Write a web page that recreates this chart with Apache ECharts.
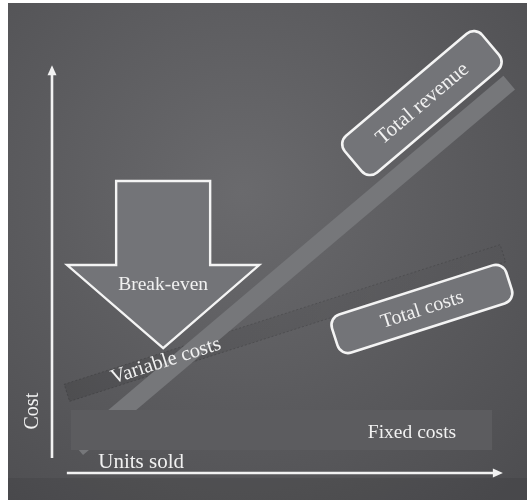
<!DOCTYPE html>
<html>
<head>
<meta charset="utf-8">
<script src="https://cdn.jsdelivr.net/npm/echarts@6/dist/echarts.min.js"></script>
<style>
  html, body { margin: 0; padding: 0; background: #ffffff; }
  #chart { position: absolute; left: 8px; top: 3px; width: 519px; height: 497px; }
</style>
</head>
<body>
<div id="chart"></div>
<script>
// Break-even diagram: units sold on x, cost on y, both on a 0–100 scale.
const unitsExtent = [0, 100];
const costExtent = [0, 100];

// [units from, cost low, units to, cost high]
const fixedCosts = [4.2, 5.65, 97.8, 15.5];
// [units, cost] at the two ends of each line
const variableCosts = [[3.3, 19.7], [100.2, 54.0]];
const totalRevenue = [[5.6, 6.1], [101.6, 95.9]];
const breakEvenPoint = [24.7, 30.7];

// axis arrows: [units, cost] start and end
const xAxisArrow = [[3.3, 0], [100.2, 0]];
const yAxisArrow = [[0, 3.7], [0, 100.2]];

const labelTexts = {
  revenue: 'Total revenue',
  costs: 'Total costs',
  variable: 'Variable costs',
  fixed: 'Fixed costs',
  breakEven: 'Break-even',
  xName: 'Units sold',
  yName: 'Cost'
};

// where the annotations sit, in [units, cost]
const labelAnchors = {
  revenue: [82.2, 90.9],
  costs: [82.2, 40.3],
  variableAt: 25.3,
  fixed: [80, 9.8],
  xName: [19.8, 2.7],
  yName: [-4.2, 15.2]
};

const FONT = "'Liberation Serif', 'DejaVu Serif', serif";
const TEXT_COLOR = '#f1f1f1';
const BOX_FILL = '#737478';
const BOX_STROKE = '#f4f4f4';

function valueAt(line, u) {
  const [[u0, c0], [u1, c1]] = line;
  return c0 + (c1 - c0) * (u - u0) / (u1 - u0);
}

function lineAngle(api, line) {
  const p0 = api.coord(line[0]);
  const p1 = api.coord(line[1]);
  return Math.atan2(-(p1[1] - p0[1]), p1[0] - p0[0]);
}

function bandShape(api, width) {
  const p0 = api.coord([api.value(0), api.value(1)]);
  const p1 = api.coord([api.value(2), api.value(3)]);
  const dx = p1[0] - p0[0], dy = p1[1] - p0[1];
  const len = Math.hypot(dx, dy);
  const nx = -dy / len * width / 2, ny = dx / len * width / 2;
  return [
    [p0[0] + nx, p0[1] + ny], [p1[0] + nx, p1[1] + ny],
    [p1[0] - nx, p1[1] - ny], [p0[0] - nx, p0[1] - ny]
  ];
}

function labelBox(center, angle, w, h, text, size) {
  return {
    type: 'group', x: center[0], y: center[1], rotation: angle,
    children: [
      { type: 'rect', shape: { x: -w / 2, y: -h / 2, width: w, height: h, r: 11 },
        style: { fill: BOX_FILL, stroke: BOX_STROKE, lineWidth: 2.6 } },
      { type: 'text', x: 0, y: 1,
        style: { text: text, fill: TEXT_COLOR, font: size + 'px ' + FONT, align: 'center', verticalAlign: 'middle' } }
    ]
  };
}

function plainText(pos, text, size, rotation) {
  return {
    type: 'text', x: pos[0], y: pos[1], rotation: rotation || 0,
    style: { text: text, fill: TEXT_COLOR, font: size + 'px ' + FONT, align: 'center', verticalAlign: 'middle' }
  };
}

function arrowLine(api, color) {
  const p0 = api.coord([api.value(0), api.value(1)]);
  const p1 = api.coord([api.value(2), api.value(3)]);
  const dx = p1[0] - p0[0], dy = p1[1] - p0[1];
  const len = Math.hypot(dx, dy);
  const ux = dx / len, uy = dy / len;
  const headLen = 10, headHalf = 4.5;
  const base = [p1[0] - ux * headLen, p1[1] - uy * headLen];
  return {
    type: 'group',
    children: [
      { type: 'line', shape: { x1: p0[0], y1: p0[1], x2: base[0] + ux * 2, y2: base[1] + uy * 2 },
        style: { stroke: color, lineWidth: 2.6 } },
      { type: 'polygon', shape: { points: [
          p1,
          [base[0] - uy * headHalf, base[1] + ux * headHalf],
          [base[0] + uy * headHalf, base[1] - ux * headHalf]
        ] }, style: { fill: color } }
    ]
  };
}

const chart = echarts.init(document.getElementById('chart'));

chart.setOption({
  animation: false,
  backgroundColor: {
    type: 'radial', x: 0.45, y: 0.38, r: 0.8,
    colorStops: [
      { offset: 0, color: '#6a6a6d' },
      { offset: 1, color: '#4e4e51' }
    ]
  },
  graphic: [
    { type: 'rect', left: 0, top: 475, shape: { width: 519, height: 22 },
      style: { fill: 'rgba(0,0,0,0.07)' }, z: -10 }
  ],
  grid: { left: 44, right: 25, top: 63, bottom: 27 },
  xAxis: { type: 'value', min: unitsExtent[0], max: unitsExtent[1], show: false },
  yAxis: { type: 'value', min: costExtent[0], max: costExtent[1], show: false },
  series: [
    {
      // variable (total) costs band
      type: 'custom', z: 1, clip: false,
      data: [[variableCosts[0][0], variableCosts[0][1], variableCosts[1][0], variableCosts[1][1]]],
      renderItem: (params, api) => ({
        type: 'polygon',
        shape: { points: bandShape(api, 18) },
        style: {
          fill: new echarts.graphic.LinearGradient(0, 0, 1, 0, [
            { offset: 0, color: 'rgba(0,0,0,0.11)' },
            { offset: 1, color: 'rgba(0,0,0,0.02)' }
          ]),
          stroke: 'rgba(0,0,0,0.22)', lineWidth: 0.7, lineDash: [2, 2]
        }
      })
    },
    {
      // total revenue band
      type: 'custom', z: 2, clip: false,
      data: [[totalRevenue[0][0], totalRevenue[0][1], totalRevenue[1][0], totalRevenue[1][1]]],
      renderItem: (params, api) => ({
        type: 'polygon',
        shape: { points: bandShape(api, 18) },
        style: { fill: '#76777a' }
      })
    },
    {
      // fixed costs block
      type: 'custom', z: 3, clip: false,
      data: [fixedCosts],
      renderItem: (params, api) => {
        const a = api.coord([api.value(0), api.value(3)]);
        const b = api.coord([api.value(2), api.value(1)]);
        return {
          type: 'group',
          children: [
            { type: 'rect', shape: { x: a[0], y: a[1], width: b[0] - a[0], height: b[1] - a[1] },
              style: { fill: '#5c5c5f' } },
            plainText(api.coord(labelAnchors.fixed), labelTexts.fixed, 19.5)
          ]
        };
      }
    },
    {
      // break-even arrow pointing down at the crossing
      type: 'custom', z: 4, clip: false,
      data: [breakEvenPoint],
      renderItem: (params, api) => {
        const t = api.coord([api.value(0), api.value(1)]);
        const headH = 83, headHalf = 96, shaftHalf = 47, shaftH = 84;
        return {
          type: 'group',
          children: [
            { type: 'polygon', shape: { points: [
                [t[0], t[1]],
                [t[0] - headHalf, t[1] - headH],
                [t[0] - shaftHalf, t[1] - headH],
                [t[0] - shaftHalf, t[1] - headH - shaftH],
                [t[0] + shaftHalf, t[1] - headH - shaftH],
                [t[0] + shaftHalf, t[1] - headH],
                [t[0] + headHalf, t[1] - headH]
              ] }, style: { fill: BOX_FILL, stroke: BOX_STROKE, lineWidth: 2.4, lineJoin: 'miter' } },
            plainText([t[0], t[1] - 63], labelTexts.breakEven, 19.5)
          ]
        };
      }
    },
    {
      // line labels
      type: 'custom', z: 5, clip: false,
      data: [[0]],
      renderItem: (params, api) => {
        const revAngle = lineAngle(api, totalRevenue);
        const varAngle = lineAngle(api, variableCosts);
        const varPos = api.coord([labelAnchors.variableAt, valueAt(variableCosts, labelAnchors.variableAt)]);
        return {
          type: 'group',
          children: [
            labelBox(api.coord(labelAnchors.revenue), revAngle, 180, 48, labelTexts.revenue, 21),
            labelBox(api.coord(labelAnchors.costs), varAngle, 183, 40, labelTexts.costs, 20),
            plainText(varPos, labelTexts.variable, 20.5, varAngle)
          ]
        };
      }
    },
    {
      // axes with arrowheads and their names
      type: 'custom', z: 6, clip: false,
      data: [
        [xAxisArrow[0][0], xAxisArrow[0][1], xAxisArrow[1][0], xAxisArrow[1][1]],
        [yAxisArrow[0][0], yAxisArrow[0][1], yAxisArrow[1][0], yAxisArrow[1][1]]
      ],
      renderItem: (params, api) => {
        const arrow = arrowLine(api, '#f2f2f2');
        const name = params.dataIndex === 0
          ? plainText(api.coord(labelAnchors.xName), labelTexts.xName, 21)
          : plainText(api.coord(labelAnchors.yName), labelTexts.yName, 20, Math.PI / 2);
        arrow.children.push(name);
        return arrow;
      }
    }
  ]
});
</script>
</body>
</html>
